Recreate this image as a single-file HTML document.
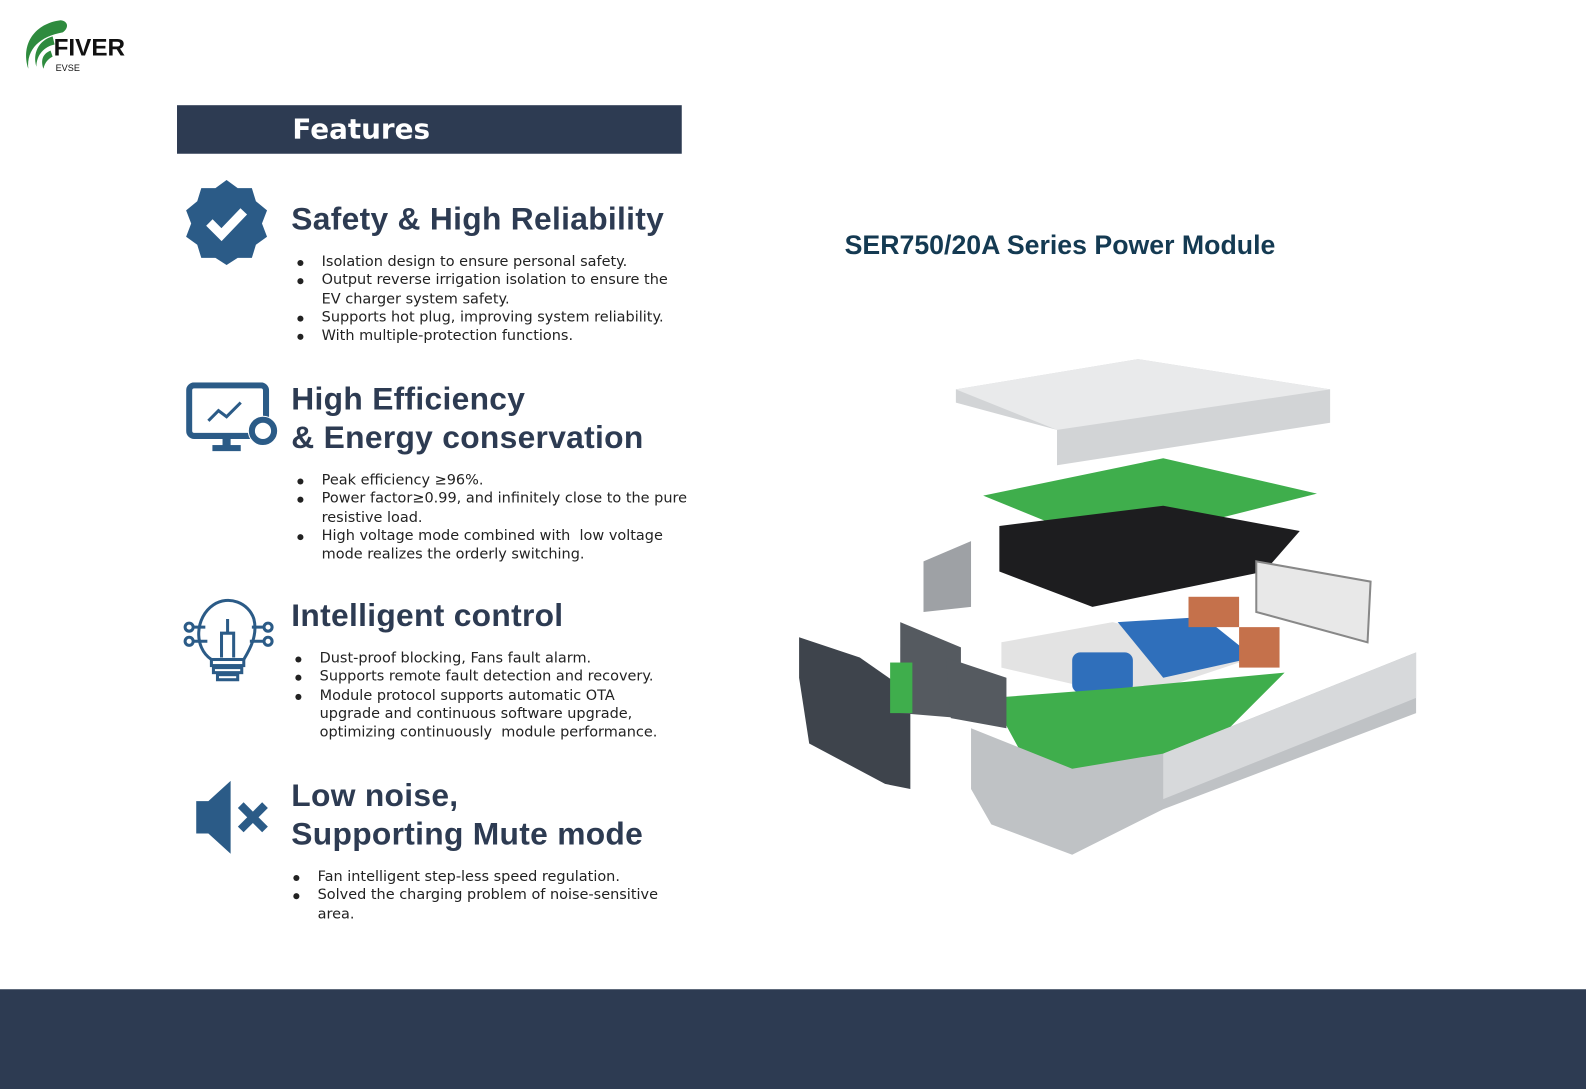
<!DOCTYPE html>
<html><head><meta charset="utf-8"><style>
*{margin:0;padding:0;box-sizing:border-box}
body{width:1586px;height:1077px;background:#fff;position:relative;overflow:hidden;font-family:"Liberation Sans",sans-serif;color:#2d3b52}
#w{position:absolute;left:0;top:0;width:1568px;height:1065px;transform:scale(1.0115);transform-origin:0 0}
.abs{position:absolute}
.h{position:absolute;left:288px;font-size:31.4px;font-weight:bold;color:#2d3b52;line-height:38px;font-family:"Liberation Sans",sans-serif;letter-spacing:0.3px}
ul{position:absolute;list-style:none;font-size:14.3px;line-height:18.3px;color:#222;font-family:"DejaVu Sans","Liberation Sans",sans-serif}
li{position:relative;padding-left:26px}
li:before{content:"";position:absolute;left:2px;top:7px;width:6px;height:6px;border-radius:50%;background:#222}
</style></head><body><div id="w">
<svg class="abs" style="left:20px;top:18px" width="120" height="56">
<path d="M40 2 C15 5 0 25 8 50 C6 30 20 18 42 14 C48 10 48 3 40 2Z" fill="#2e8b3e"/>
<path d="M32 18 C18 22 12 35 16 48 C16 36 24 28 34 26Z" fill="#2e8b3e"/>
<path d="M30 32 C22 35 20 42 23 50 C24 44 28 40 32 38Z" fill="#2e8b3e"/>
<text x="33" y="37" font-family="Liberation Sans" font-weight="bold" font-size="24" fill="#111">FIVER</text>
<text x="35" y="52" font-family="Liberation Sans" font-size="9" fill="#111">EVSE</text>
</svg>
<div class="abs" style="left:175px;top:104px;width:499px;height:48px;background:#2d3b52;color:#fff;font-size:27.5px;line-height:48px;padding-left:114px;font-family:'DejaVu Sans',sans-serif;font-weight:600">Features</div>

<svg class="abs" style="left:183px;top:178px" width="82" height="84"><polygon points="41,0 52,8 66,8 70,21 81,30 76,43 81,56 70,64 66,77 52,77 41,84 30,77 16,77 12,64 1,56 6,43 1,30 12,21 16,8 30,8" fill="#2b5b87"/><polyline points="24,42 36,54 58,31" fill="none" stroke="#fff" stroke-width="9"/></svg>
<div class="h" style="top:198px">Safety &amp; High Reliability</div>
<ul style="left:292px;top:250px"><li>Isolation design to ensure personal safety.</li><li>Output reverse irrigation isolation to ensure the<br>EV charger system safety.</li><li>Supports hot plug, improving system reliability.</li><li>With multiple-protection functions.</li></ul>

<svg class="abs" style="left:184px;top:378px" width="94" height="72"><rect x="3" y="3" width="76" height="50" rx="5" fill="none" stroke="#2b5b87" stroke-width="6"/><rect x="36" y="53" width="8" height="10" fill="#2b5b87"/><rect x="26" y="62" width="28" height="6" fill="#2b5b87"/><polyline points="22,38 32,28 40,34 54,20" fill="none" stroke="#2b5b87" stroke-width="3"/><circle cx="76" cy="48" r="15" fill="#fff"/><circle cx="76" cy="48" r="11" fill="none" stroke="#2b5b87" stroke-width="6"/></svg>
<div class="h" style="top:376px">High Efficiency<br>&amp; Energy conservation</div>
<ul style="left:292px;top:466px"><li>Peak efficiency ≥96%.</li><li>Power factor≥0.99, and infinitely close to the pure<br>resistive load.</li><li>High voltage mode combined with&nbsp; low voltage<br>mode realizes the orderly switching.</li></ul>

<svg class="abs" style="left:181px;top:590px" width="92" height="84" fill="none" stroke="#2b5b87" stroke-width="3"><path d="M28 62 C10 50 12 20 30 8 C45 -2 65 6 70 22 C74 38 66 52 60 62Z"/><rect x="28" y="62" width="32" height="6"/><rect x="30" y="70" width="28" height="5"/><rect x="34" y="77" width="20" height="5"/><path d="M38 60 V36 H50 V60 M44 36 V22"/><circle cx="6" cy="30" r="4"/><circle cx="6" cy="44" r="4"/><circle cx="84" cy="30" r="4"/><circle cx="84" cy="44" r="4"/><path d="M10 30 H22 M10 44 H24 M80 30 H68 M80 44 H66"/></svg>
<div class="h" style="top:590px">Intelligent control</div>
<ul style="left:290px;top:642px"><li>Dust-proof blocking, Fans fault alarm.</li><li>Supports remote fault detection and recovery.</li><li>Module protocol supports automatic OTA<br>upgrade and continuous software upgrade,<br>optimizing continuously&nbsp; module performance.</li></ul>

<svg class="abs" style="left:192px;top:772px" width="80" height="74"><polygon points="2,20 14,20 36,0 36,72 14,52 2,52" fill="#2b5b87"/><path d="M46 24 L70 48 M70 24 L46 48" stroke="#2b5b87" stroke-width="8"/></svg>
<div class="h" style="top:768px">Low noise,<br>Supporting Mute mode</div>
<ul style="left:288px;top:858px"><li>Fan intelligent step-less speed regulation.</li><li>Solved the charging problem of noise-sensitive<br>area.</li></ul>

<div class="abs" style="left:835px;top:227px;font-size:26.4px;font-weight:bold;color:#143a52">SER750/20A Series Power Module</div>

<svg class="abs" style="left:780px;top:350px" width="640" height="510">
<polygon points="165,35 345,5 535,35 535,68 265,110 265,75 165,48" fill="#d2d4d6"/>
<polygon points="165,35 345,5 535,35 265,75" fill="#e9eaeb"/>
<polygon points="192,140 370,103 522,138 315,190" fill="#3fae4c"/>
<polygon points="133,205 180,185 180,250 133,255" fill="#9ea1a5"/>
<polygon points="208,170 370,150 505,175 470,215 300,250 208,215" fill="#1d1d1f"/>
<polygon points="462,205 575,225 572,285 462,255" fill="#e8e8e8" stroke="#888" stroke-width="2"/>
<polygon points="210,285 320,265 460,300 340,340 210,310" fill="#e3e3e3"/>
<polygon points="325,265 410,260 460,300 370,320" fill="#2f6fbb"/>
<rect x="280" y="295" width="60" height="40" rx="8" fill="#2f6fbb"/>
<rect x="445" y="270" width="40" height="40" fill="#c5714b"/>
<rect x="395" y="240" width="50" height="30" fill="#c5714b"/>
<polygon points="200,340 330,330 490,315 420,385 280,415 230,395" fill="#3fae4c"/>
<polygon points="180,370 280,410 370,395 620,295 620,355 370,450 280,495 200,465 180,430" fill="#bfc2c5"/>
<polygon points="370,395 620,295 620,340 370,440" fill="#d7d9db"/>
<polygon points="10,280 70,300 120,335 120,430 95,425 20,385 10,320" fill="#3e444c"/>
<polygon points="110,265 170,290 170,360 110,355" fill="#555a60"/>
<polygon points="155,300 215,320 215,370 160,360" fill="#555a60"/>
<rect x="100" y="305" width="22" height="50" fill="#3fae4c"/>
</svg>

<div class="abs" style="left:0;top:978px;width:1568px;height:99px;background:#2d3b52"></div>
</div></body></html>
